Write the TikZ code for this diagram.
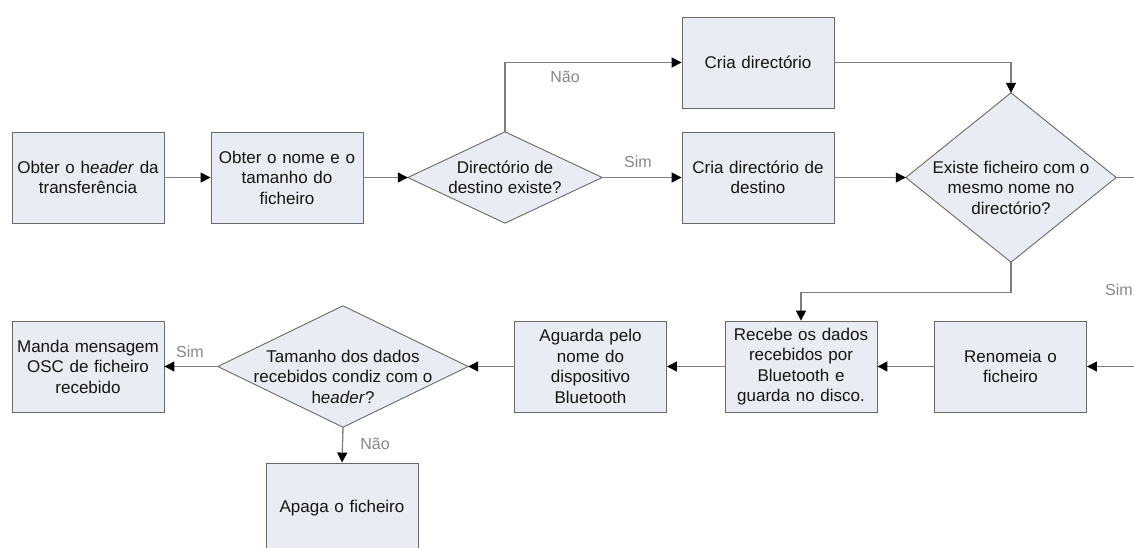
\documentclass[tikz,border=0pt]{standalone}
\usepackage{fontspec}
\setmainfont{Liberation Sans}
\usetikzlibrary{arrows.meta}
\definecolor{boxfill}{RGB}{233,237,243}
\definecolor{boxline}{RGB}{105,105,105}
\definecolor{conn}{RGB}{125,125,125}
\definecolor{lbl}{RGB}{135,135,135}
\definecolor{txt}{RGB}{20,20,20}
\tikzset{
  procbox/.style={draw=boxline, fill=boxfill, line width=0.9pt, minimum width=152pt, minimum height=91pt,
    inner sep=0pt, text width=146pt, align=center, text=txt, font=\fontsize{17}{20.5}\selectfont},
  diaframe/.style={rectangle, inner sep=0pt},
  diashape/.style={draw=boxline, fill=boxfill, line width=0.9pt, line join=miter},
  diatext/.style={inner sep=0pt, align=center, text=txt, font=\fontsize{17}{20.5}\selectfont},
  conline/.style={draw=conn, line width=1.3pt},
  arr/.style={conline, -{Triangle[length=10pt,width=10pt,color=black]}},
  yesno/.style={text=lbl, font=\fontsize{16}{19}\selectfont, inner sep=0pt}
}
\begin{document}
\begin{tikzpicture}[x=1pt,y=-1pt]
\useasboundingbox (0,0) rectangle (1134,547);
% boxes
\node[procbox] (b1) at (88,177.5) {Obter o h\textit{eader} da\\transferência};
\node[procbox] (b2) at (287,177.5) {Obter o nome e o\\tamanho do\\ficheiro};
\node[procbox] (c1) at (758,62.5) {Cria directório};
\node[procbox] (c2) at (758,177.5) {Cria directório de\\destino};
\node[procbox] (manda) at (88,366.5) {Manda mensagem\\OSC de ficheiro\\recebido};
\node[procbox] (agu) at (590.5,366.5) {Aguarda pelo\\nome do\\dispositivo\\Bluetooth};
\node[procbox] (rec) at (801,366.5) {Recebe os dados\\recebidos por\\Bluetooth e\\guarda no disco.};
\node[procbox] (ren) at (1010.5,366.5) {Renomeia o\\ficheiro};
\node[procbox] (apaga) at (342,508.5) {Apaga o ficheiro};
% diamonds
\node[diaframe, minimum width=194pt, minimum height=91pt] (d1) at (505,177.5) {};
\draw[diashape] (d1.north) -- (d1.east) -- (d1.south) -- (d1.west) -- cycle;
\node[diatext] (d1t) at (d1.center) {Directório de\\destino existe?};
\node[diaframe, minimum width=210pt, minimum height=169pt] (d2) at (1011,177.5) {};
\draw[diashape] (d2.north) -- (d2.east) -- (d2.south) -- (d2.west) -- cycle;
\node[diatext] (d2t) at (1011,187.5) {Existe ficheiro com o\\mesmo nome no\\directório?};
\node[diaframe, minimum width=250pt, minimum height=121pt] (d3) at (343,366.5) {};
\draw[diashape] (d3.north) -- (d3.east) -- (d3.south) -- (d3.west) -- cycle;
\node[diatext] (d3t) at (343,376.5) {Tamanho dos dados\\recebidos condiz com o\\h\textit{eader}?};
% off-page coordinates
\coordinate (o1) at (1150,177.5);
\coordinate (o2) at (1150,366.5);
% connectors
\draw[arr] (b1.east) -- (b2.west);
\draw[arr] (b2.east) -- (d1.west);
\draw[arr] (d1.north) |- (c1.west);
\draw[arr] (d1.east) -- (c2.west);
\draw[arr] (c1.east) -| (d2.north);
\draw[arr] (c2.east) -- (d2.west);
\draw[conline] (d2.east) -- (o1) -- (o2);
\draw[arr] (o2) -- (ren.east);
\draw[arr] (d2.south) -- ++(0,30) -| (rec.north);
\draw[arr] (ren.west) -- (rec.east);
\draw[arr] (rec.west) -- (agu.east);
\draw[arr] (agu.west) -- (d3.east);
\draw[arr] (d3.west) -- (manda.east);
\draw[arr] (d3.south) -- (apaga.north);
% labels
\node[yesno] (l1) at (565,77) {Não};
\node[yesno] (l2) at (638,162) {Sim};
\node[yesno] (l3) at (1119,290) {Sim};
\node[yesno] (l4) at (190,352) {Sim};
\node[yesno] (l5) at (375,444) {Não};
\end{tikzpicture}
\end{document}
